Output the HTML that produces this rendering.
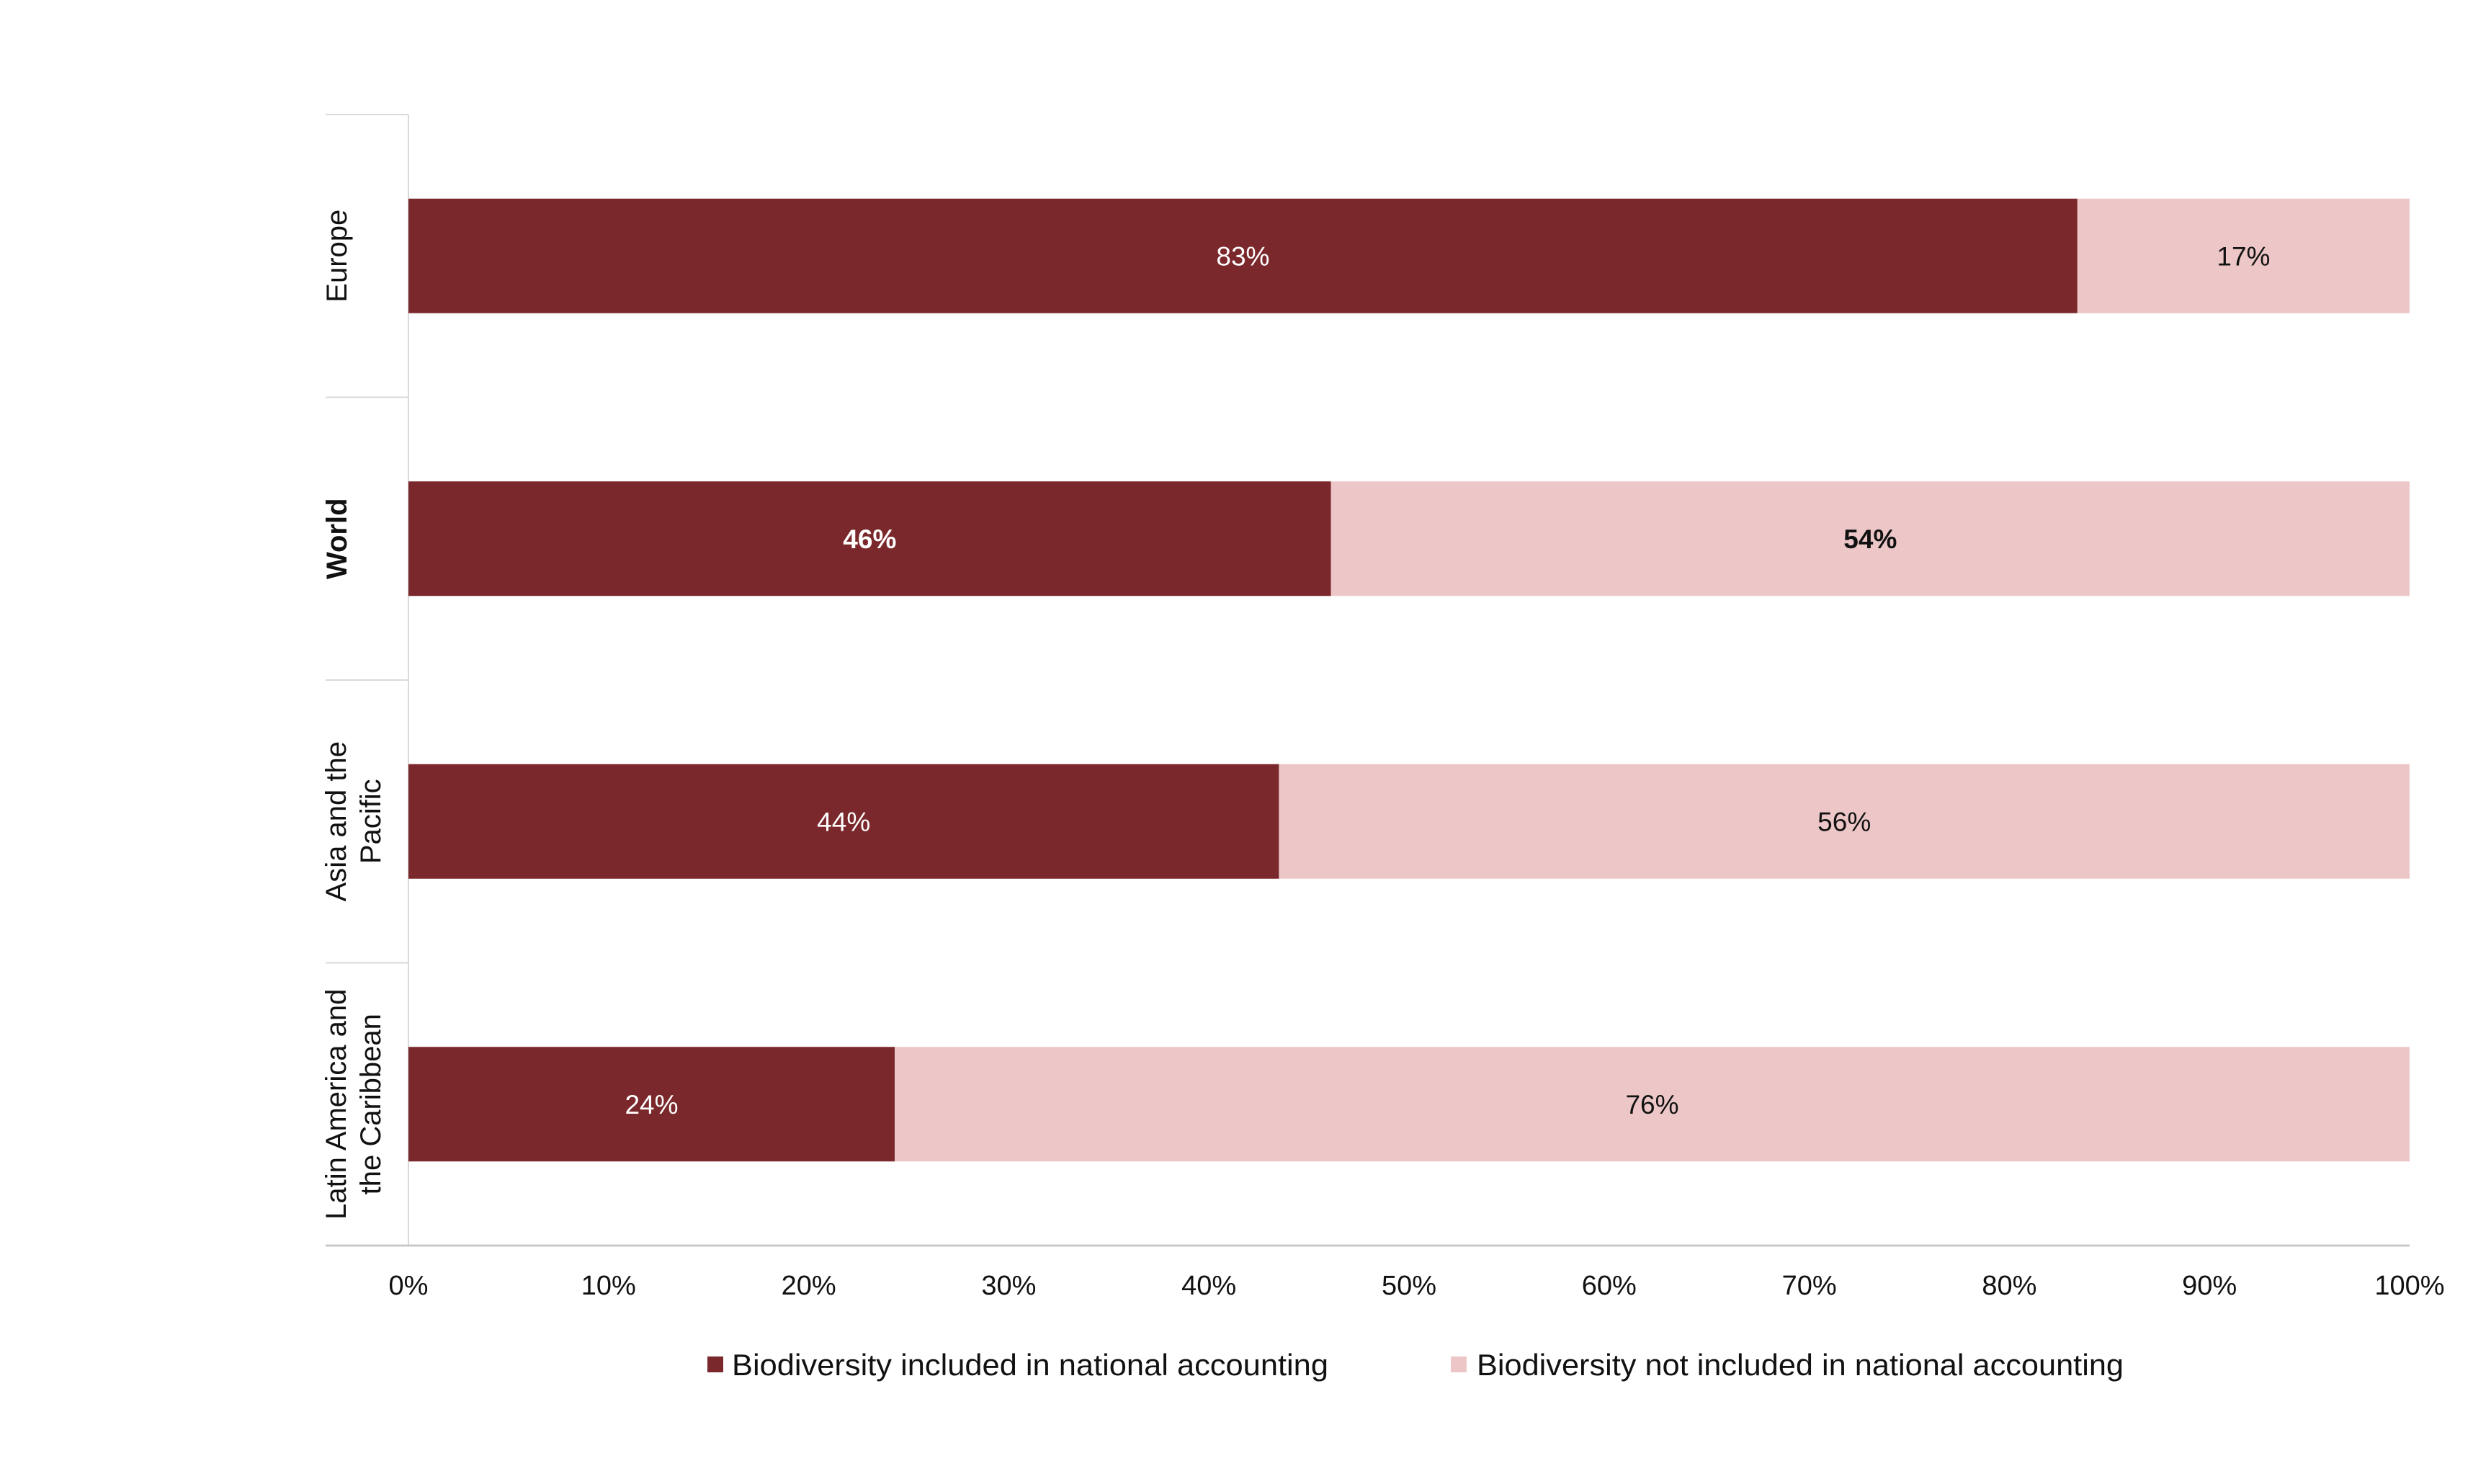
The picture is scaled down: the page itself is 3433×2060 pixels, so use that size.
<!DOCTYPE html>
<html><head><meta charset="utf-8"><style>
html,body{margin:0;padding:0;background:#fff;}
svg{display:block;font-family:"Liberation Sans",sans-serif;}
</style></head><body>
<svg id="chart" width="3433" height="2060" viewBox="0 0 3433 2060" xmlns="http://www.w3.org/2000/svg">
<rect width="3433" height="2060" fill="#fff"/>
<g id="grid"></g>
<g id="bars"></g>
<g id="labels"></g>
<g id="legend">
  <rect x="982" y="1883" width="22" height="22" fill="#7A282B"/>
  <text x="1016" y="1909" font-size="42" textLength="828" lengthAdjust="spacingAndGlyphs" fill="#111">Biodiversity included in national accounting</text>
  <rect x="2014" y="1883" width="22" height="22" fill="#EDC7C7"/>
  <text x="2050" y="1909" font-size="42" textLength="898" lengthAdjust="spacingAndGlyphs" fill="#111">Biodiversity not included in national accounting</text>
</g>
</svg>
<script>
const categories = [["Europe"], ["World"], ["Asia and the", "Pacific"], ["Latin America and", "the Caribbean"]];
const included = [83.4, 46.1, 43.5, 24.3];
const notIncluded = [16.6, 53.9, 56.5, 75.7];
const includedLabels = ["83%", "46%", "44%", "24%"];
const notIncludedLabels = ["17%", "54%", "56%", "76%"];
const boldRows = [false, true, false, false];
const ticks = [0, 10, 20, 30, 40, 50, 60, 70, 80, 90, 100];

const NS = "http://www.w3.org/2000/svg";
const X0 = 567, X1 = 3345, YT = 159, YB = 1729;
const band = (YB - YT) / categories.length;
const barH = 159;
const xs = v => X0 + (X1 - X0) * v / 100;
const yc = i => YT + band * (i + 0.5);
function mk(tag, attrs, parent) {
  const e = document.createElementNS(NS, tag);
  for (const k in attrs) e.setAttribute(k, attrs[k]);
  parent.appendChild(e);
  return e;
}
const grid = document.getElementById('grid');
const bars = document.getElementById('bars');
const labels = document.getElementById('labels');

let ax = mk('line', {x1: X0, y1: YT, x2: X0, y2: YB, stroke: '#d9d9d9', 'stroke-width': 2}, grid);


let bx = mk('line', {x1: 452, y1: YB, x2: X1, y2: YB, stroke: '#c8c8c8', 'stroke-width': 3}, grid);


for (let i = 0; i < categories.length; i++) {
  const y = YT + band * i;
  const t = mk('line', {x1: 452, y1: y, x2: X0, y2: y, stroke: '#d9d9d9', 'stroke-width': 2}, grid);
  
  
}
ticks.forEach(v => {
  const t = mk('text', {x: xs(v), y: 1797, 'font-size': 38, 'text-anchor': 'middle', fill: '#111'}, labels);
  t.textContent = v + '%';
  
  
});

categories.forEach((lines, i) => {
  const cy = yc(i);
  const r1 = mk('rect', {x: xs(0), y: cy - barH / 2, width: xs(included[i]) - xs(0), height: barH, fill: '#7A282B'}, bars);
  
  
  const r2 = mk('rect', {x: xs(included[i]), y: cy - barH / 2, width: xs(included[i] + notIncluded[i]) - xs(included[i]), height: barH, fill: '#EDC7C7'}, bars);
  
  
  const fw = boldRows[i] ? 'bold' : 'normal';
  const l1 = mk('text', {x: (xs(0) + xs(included[i])) / 2, y: cy + 13, 'font-size': 37, 'text-anchor': 'middle', fill: '#fff', 'font-weight': fw}, labels);
  l1.textContent = includedLabels[i];
  
  
  const l2 = mk('text', {x: (xs(included[i]) + xs(included[i] + notIncluded[i])) / 2, y: cy + 13, 'font-size': 37, 'text-anchor': 'middle', fill: '#111', 'font-weight': fw}, labels);
  l2.textContent = notIncludedLabels[i];
  
  
  const g = mk('text', {transform: `translate(${lines.length === 1 ? 481 : 480},${cy}) rotate(-90)`, 'font-size': 40, 'text-anchor': 'middle', fill: '#111', 'font-weight': fw}, labels);
  
  
  lines.forEach((ln, j) => {
    const ts = mk('tspan', {x: 0, dy: j === 0 ? 0 : 48}, g);
    ts.textContent = ln;
  });
});
</script>
</body></html>
